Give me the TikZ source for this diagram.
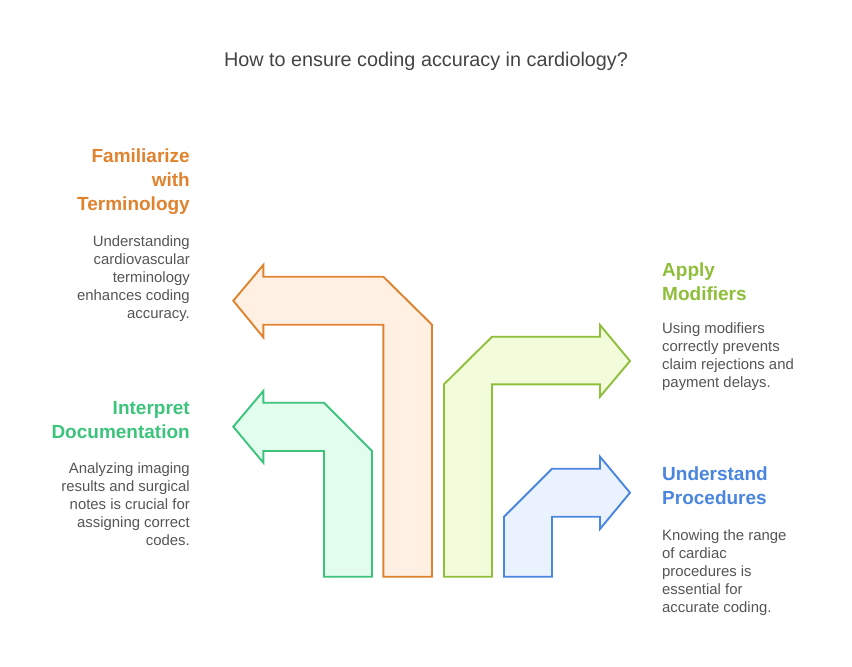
\documentclass[tikz,border=0pt]{standalone}
\usepackage{fontspec}
\setmainfont{Liberation Sans}
\definecolor{orS}{HTML}{E0832F}\definecolor{orF}{HTML}{FFF0E3}
\definecolor{grS}{HTML}{3CC47C}\definecolor{grF}{HTML}{E2FCEE}
\definecolor{liS}{HTML}{8FBF3A}\definecolor{liF}{HTML}{F2FCDB}
\definecolor{blS}{HTML}{4A86E0}\definecolor{blF}{HTML}{EAF2FE}
\definecolor{txt}{HTML}{555555}
\definecolor{ttl}{HTML}{444444}
\begin{document}
\begin{tikzpicture}[x=1pt,y=-1pt,
  arrowshape/.style={line width=1.9pt,line join=miter},
  headtxt/.style={inner sep=0pt,font=\fontsize{19}{24}\selectfont\bfseries},
  bodytxt/.style={inner sep=0pt,text=txt,font=\fontsize{14.9}{18}\selectfont},
]
\useasboundingbox[fill=white] (0,0) rectangle (852,667);
\node[text=ttl,font=\fontsize{19.8}{22}\selectfont,anchor=base] (title) at (426,66.5) {How to ensure coding accuracy in cardiology?};

% orange
\draw[arrowshape,draw=orS,fill=orF] (233.3,300.7) -- (263.3,265) -- (263.3,276.7) -- (383.3,276.7) -- (432,324.7) -- (432,576.7) -- (383.3,576.7) -- (383.3,324.7) -- (263.3,324.7) -- (263.3,337.3) -- cycle;
% green
\draw[arrowshape,draw=grS,fill=grF] (233.3,426.7) -- (263.3,391) -- (263.3,402.7) -- (324,402.7) -- (372,451) -- (372,576.7) -- (324,576.7) -- (324,451) -- (263.3,451) -- (263.3,462.7) -- cycle;
% lime
\draw[arrowshape,draw=liS,fill=liF] (630,361) -- (600,325) -- (600,336.7) -- (492,336.7) -- (444,384.3) -- (444,576.7) -- (492,576.7) -- (492,384.3) -- (600,384.3) -- (600,396.7) -- cycle;
% blue
\draw[arrowshape,draw=blS,fill=blF] (630,492.7) -- (600,456.7) -- (600,468.7) -- (552,468.7) -- (504,516.7) -- (504,576.7) -- (552,576.7) -- (552,516.7) -- (600,516.7) -- (600,529) -- cycle;

% anchors are at the baseline of the last line
\node[headtxt,text=orS,align=right,anchor=base east] (h1) at (190,210.7) {Familiarize\\with\\Terminology};
\node[bodytxt,align=right,anchor=base east] (b1) at (190,318.7) {Understanding\\cardiovascular\\terminology\\enhances coding\\accuracy.};

\node[headtxt,text=grS,align=right,anchor=base east] (h2) at (190,438.7) {Interpret\\Documentation};
\node[bodytxt,align=right,anchor=base east] (b2) at (190,545.7) {Analyzing imaging\\results and surgical\\notes is crucial for\\assigning correct\\codes.};

\node[headtxt,text=liS,align=left,anchor=base west] (h3) at (662,300.7) {Apply\\Modifiers};
\node[bodytxt,align=left,anchor=base west] (b3) at (662,387.7) {Using modifiers\\correctly prevents\\claim rejections and\\payment delays.};

\node[headtxt,text=blS,align=left,anchor=base west] (h4) at (662,504.7) {Understand\\Procedures};
\node[bodytxt,align=left,anchor=base west] (b4) at (662,612.7) {Knowing the range\\of cardiac\\procedures is\\essential for\\accurate coding.};
\end{tikzpicture}
\end{document}
